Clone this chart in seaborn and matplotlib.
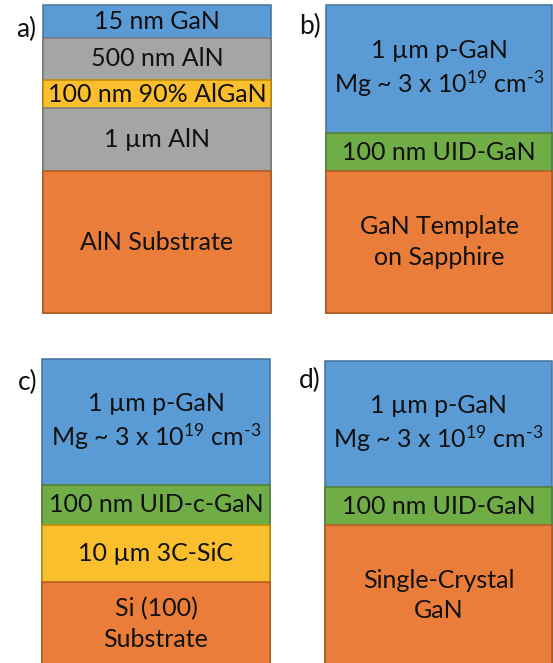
import numpy as np
import matplotlib
matplotlib.use("Agg")
import matplotlib.pyplot as plt
import seaborn as sns

# layer stacks, listed top -> bottom (drawn thickness in px)
a_labels = ["15 nm GaN", "500 nm AlN", "100 nm 90% AlGaN", "1 \u00b5m AlN", "AlN Substrate"]
a_heights = [33, 42, 28, 63, 142]
a_kinds = ["gan", "aln", "algan", "aln", "sub"]

ptype = "1 \u00b5m p-GaN\nMg ~ 3 x 10$^{19}$ cm$^{\\text{-}3}$"

b_labels = [ptype, "100 nm UID-GaN", "GaN Template\non Sapphire"]
b_heights = [128, 38, 142]
b_kinds = ["gan", "uid", "sub"]

c_labels = [ptype, "100 nm UID-c-GaN", "10 \u00b5m 3C-SiC", "Si (100)\nSubstrate"]
c_heights = [126, 40, 57, 84]
c_kinds = ["gan", "uid", "algan", "sub"]

d_labels = [ptype, "100 nm UID-GaN", "Single-Crystal\nGaN"]
d_heights = [126, 38, 141]
d_kinds = ["gan", "uid", "sub"]

fill = {"gan": "#5B9BD5", "aln": "#A5A5A5", "algan": "#FBBF2D",
        "uid": "#70AD47", "sub": "#EB7D3A"}
edge = {"gan": "#41719C", "aln": "#7A7A7A", "algan": "#BC8C00",
        "uid": "#507E32", "sub": "#AE5A21"}

sns.set_style("white")
plt.rcParams["font.family"] = ["Lato", "DejaVu Sans"]
plt.rcParams["mathtext.fontset"] = "custom"
plt.rcParams["mathtext.rm"] = "Lato"
plt.rcParams["mathtext.it"] = "Lato"
plt.rcParams["mathtext.default"] = "regular"

W, H = 553, 663
fig = plt.figure(figsize=(W / 100, H / 100), dpi=100)

# panel boxes in pixels: left, right, top
panels = [
    ("a)", a_labels, a_heights, a_kinds, (43, 271, 5), (26, 29)),
    ("b)", b_labels, b_heights, b_kinds, (326, 552, 5), (310, 26)),
    ("c)", c_labels, c_heights, c_kinds, (42, 270, 359), (28, 382)),
    ("d)", d_labels, d_heights, d_kinds, (325, 552, 361), (310, 380)),
]

for tag, labels, heights, kinds, (x0, x1, y0), (tx, ty) in panels:
    total = sum(heights)
    y1 = y0 + total
    ax = fig.add_axes([x0 / W, 1 - y1 / H, (x1 - x0) / W, total / H])
    # cumulative tops, measured from the bottom of the stack
    tops = np.cumsum(heights[::-1])[::-1]
    for lab, h, k, top in zip(labels, heights, kinds, tops):
        sns.barplot(x=[tag], y=[top], color=fill[k], saturation=1, width=1,
                    edgecolor=edge[k], linewidth=1.1, errorbar=None, ax=ax)
        ls = 1.25 if "$" in lab else 1.4
        ax.text(0, top - h / 2, lab, ha="center", va="center",
                fontsize=18, color="#111111", linespacing=ls)
    for p in ax.patches:
        p.set_clip_on(False)
    ax.set_xlim(-0.5, 0.5)
    ax.set_ylim(0, total)
    ax.axis("off")
    fig.text(tx / W, 1 - ty / H, tag, ha="center", va="center",
             fontsize=19, color="#111111")

fig.savefig("out.png", dpi=100)
